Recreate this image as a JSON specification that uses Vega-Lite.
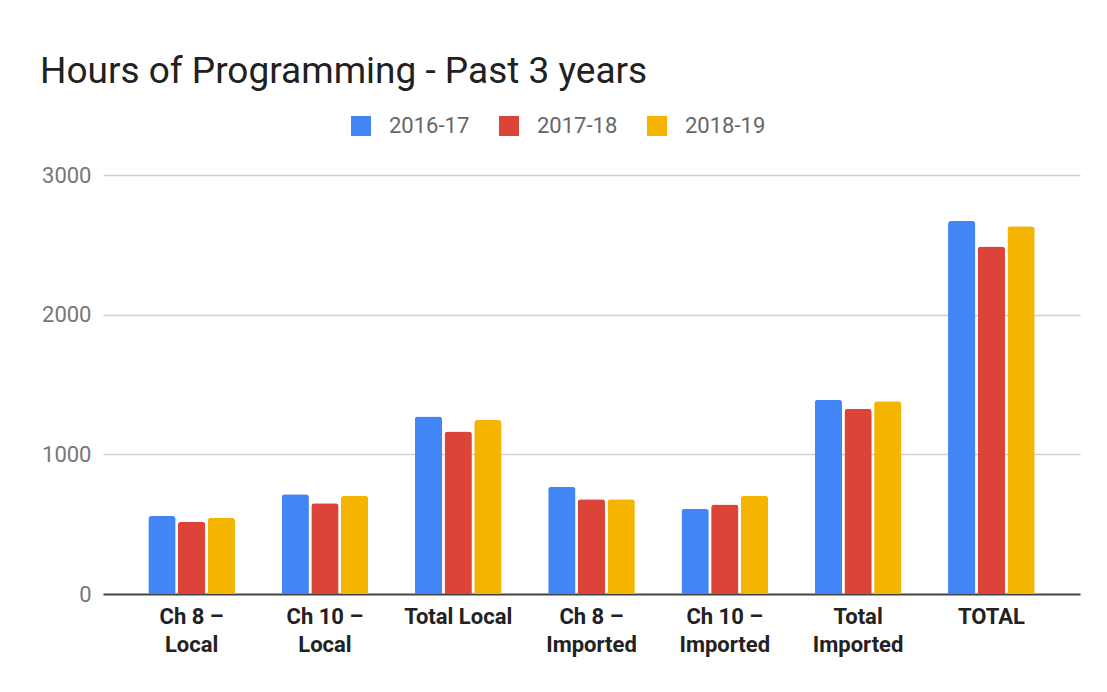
{
  "$schema": "https://vega.github.io/schema/vega-lite/v6.json",
  "autosize": "none",
  "width": 977,
  "height": 419,
  "padding": {"left": 103, "top": 175, "right": 27, "bottom": 98},
  "background": "white",
  "title": {
    "text": "Hours of Programming - Past 3 years",
    "anchor": "start",
    "frame": "group",
    "dx": -63,
    "offset": 24,
    "font": "Roboto",
    "fontSize": 37,
    "fontWeight": "normal",
    "color": "#212121"
  },
  "data": {
    "values": [
      {"category": "Ch 8 – Local", "year": "2016-17", "hours": 558},
      {"category": "Ch 8 – Local", "year": "2017-18", "hours": 518},
      {"category": "Ch 8 – Local", "year": "2018-19", "hours": 545},
      {"category": "Ch 10 – Local", "year": "2016-17", "hours": 715},
      {"category": "Ch 10 – Local", "year": "2017-18", "hours": 650},
      {"category": "Ch 10 – Local", "year": "2018-19", "hours": 702},
      {"category": "Total Local", "year": "2016-17", "hours": 1270},
      {"category": "Total Local", "year": "2017-18", "hours": 1163},
      {"category": "Total Local", "year": "2018-19", "hours": 1245},
      {"category": "Ch 8 – Imported", "year": "2016-17", "hours": 768},
      {"category": "Ch 8 – Imported", "year": "2017-18", "hours": 678},
      {"category": "Ch 8 – Imported", "year": "2018-19", "hours": 678},
      {"category": "Ch 10 – Imported", "year": "2016-17", "hours": 610},
      {"category": "Ch 10 – Imported", "year": "2017-18", "hours": 640},
      {"category": "Ch 10 – Imported", "year": "2018-19", "hours": 703},
      {"category": "Total Imported", "year": "2016-17", "hours": 1390},
      {"category": "Total Imported", "year": "2017-18", "hours": 1325},
      {"category": "Total Imported", "year": "2018-19", "hours": 1380},
      {"category": "TOTAL", "year": "2016-17", "hours": 2670},
      {"category": "TOTAL", "year": "2017-18", "hours": 2488},
      {"category": "TOTAL", "year": "2018-19", "hours": 2633}
    ]
  },
  "mark": {"type": "bar", "cornerRadiusTopLeft": 3, "cornerRadiusTopRight": 3},
  "encoding": {
    "x": {
      "field": "category",
      "type": "nominal",
      "sort": null,
      "scale": {"paddingInner": 0.35, "paddingOuter": 0.34},
      "axis": {
        "title": null,
        "labelAngle": 0,
        "domain": false,
        "ticks": false,
        "labelPadding": 12,
        "labelFont": "Roboto",
        "labelFontSize": 22,
        "labelFontWeight": "bold",
        "labelColor": "#222222",
        "labelLineHeight": 28,
        "labelBaseline": "top",
        "labelExpr": "datum.label == 'Total Imported' ? ['Total', 'Imported'] : indexof(datum.label, '–') > 0 ? [substring(datum.label, 0, indexof(datum.label, '–') + 1), substring(datum.label, indexof(datum.label, '–') + 2)] : datum.label"
      }
    },
    "xOffset": {
      "field": "year",
      "type": "nominal",
      "scale": {"paddingInner": 0.08}
    },
    "y": {
      "field": "hours",
      "type": "quantitative",
      "scale": {"domain": [0, 3000], "nice": false},
      "axis": {
        "title": null,
        "values": [0, 1000, 2000, 3000],
        "format": "d",
        "domain": false,
        "ticks": false,
        "labelPadding": 12,
        "labelFont": "Roboto",
        "labelFontSize": 22,
        "labelColor": "#777777",
        "gridColor": {"condition": {"test": "datum.value === 0", "value": "#444444"}, "value": "#d0d0d0"},
        "gridWidth": {"condition": {"test": "datum.value === 0", "value": 2}, "value": 1.5}
      }
    },
    "color": {
      "field": "year",
      "type": "nominal",
      "scale": {"domain": ["2016-17", "2017-18", "2018-19"], "range": ["#4285F4", "#DB4437", "#F4B400"]},
      "legend": {
        "title": null,
        "orient": "none",
        "direction": "horizontal",
        "legendX": 247,
        "legendY": -60,
        "symbolType": "square",
        "symbolSize": 400,
        "symbolStrokeWidth": 0,
        "labelFont": "Roboto",
        "labelFontSize": 22,
        "labelColor": "#666666",
        "labelOffset": 17,
        "columnPadding": 28
      }
    }
  },
  "config": {"view": {"stroke": null}}
}
